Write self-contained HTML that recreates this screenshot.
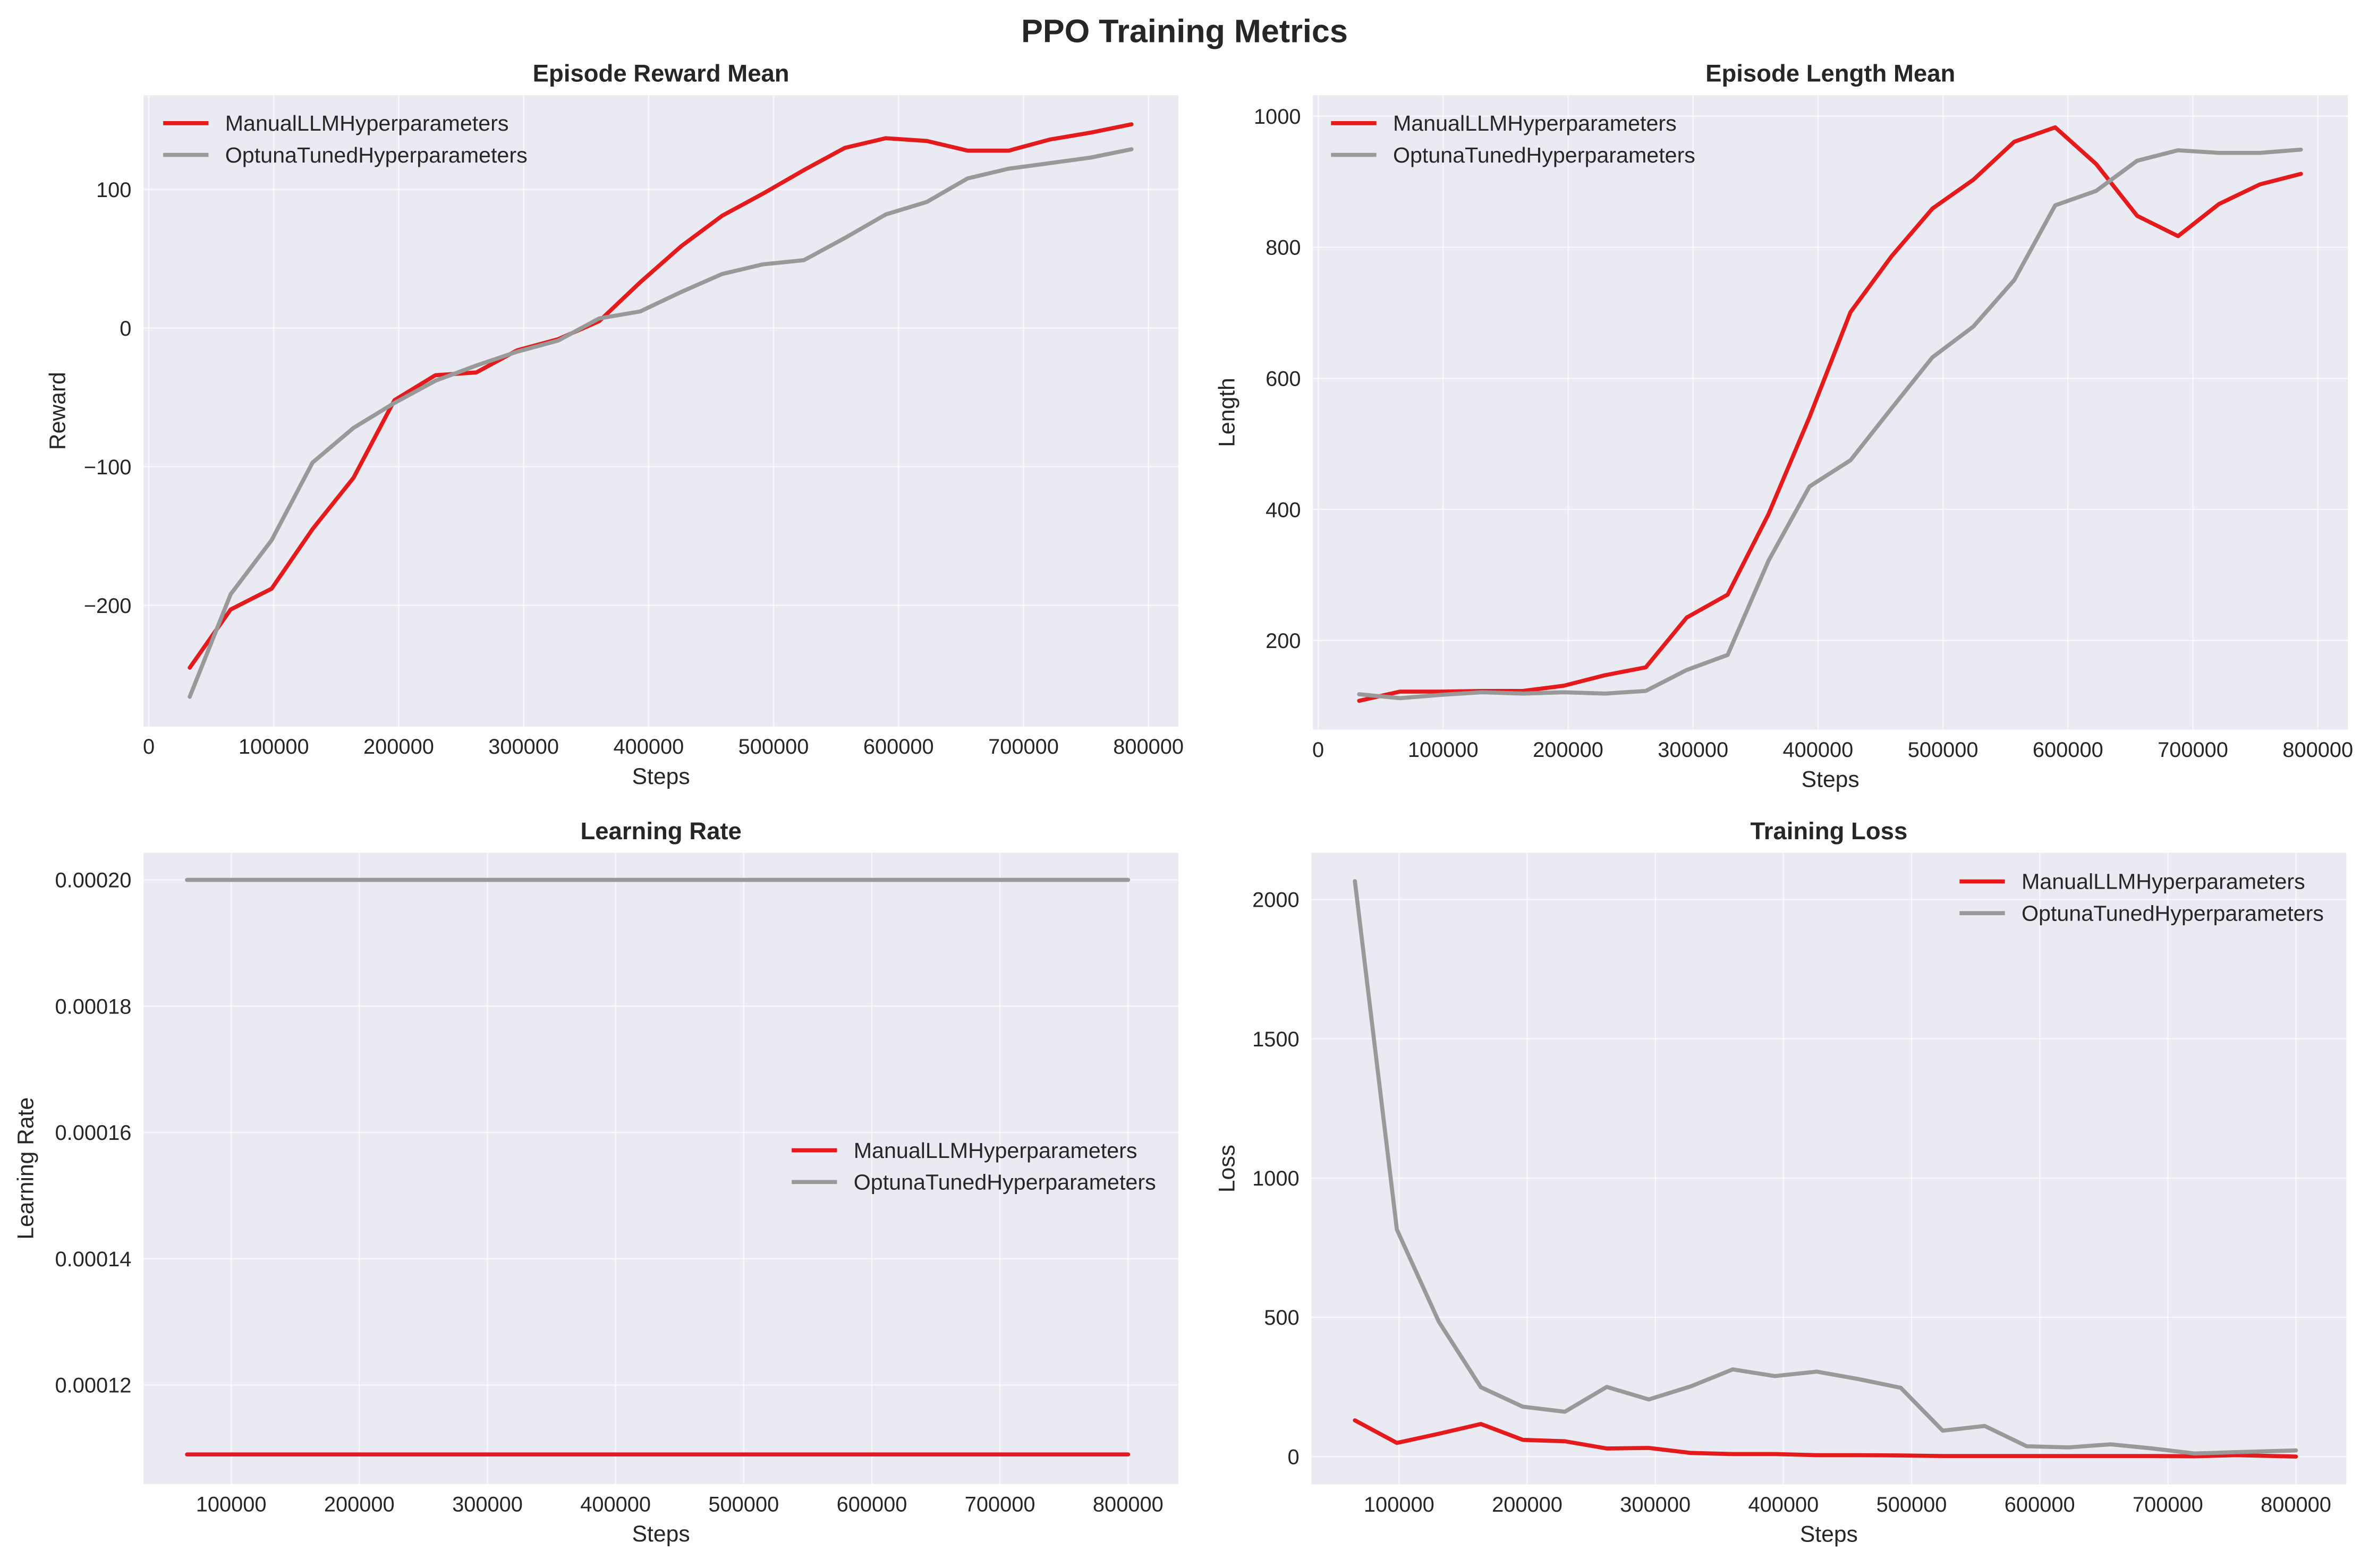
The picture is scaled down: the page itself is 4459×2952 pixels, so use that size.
<!DOCTYPE html>
<html><head><meta charset="utf-8">
<style>
html,body{margin:0;padding:0;background:#fff;}
svg{display:block;font-family:"Liberation Sans",Arial,sans-serif;}
</style></head>
<body>
<svg id="fig" width="4459" height="2952" viewBox="0 0 1568 1038" xmlns="http://www.w3.org/2000/svg">
<rect width="1568" height="1038" fill="#ffffff"/>
<text x="784" y="28" text-anchor="middle" font-size="21.5" font-weight="bold" fill="#262626">PPO Training Metrics</text>
</svg>
<script>
// ---- data ----
const stepsTop = [32768,65536,98304,131072,163840,196608,229376,262144,294912,327680,360448,393216,425984,458752,491520,524288,557056,589824,622592,655360,688128,720896,753664,786432];
const rewardManual = [-245,-203,-188,-145,-108,-52,-34,-32,-16,-8,5,33,59,81,97,114,130,137,135,128,128,136,141,147];
const rewardOptuna = [-266,-192,-153,-97,-72,-54,-38,-27,-17,-9,7,12,26,39,46,49,65,82,91,108,115,119,123,129];
const lengthManual = [108,122,122,123,123,131,147,159,235,270,393,541,701,786,859,903,961,983,927,848,817,866,896,912];
const lengthOptuna = [118,112,117,121,119,121,119,123,155,178,322,435,475,554,632,679,750,864,886,932,948,944,944,949];
const stepsBottom = [65536,98304,131072,163840,196608,229376,262144,294912,327680,360448,393216,425984,458752,491520,524288,557056,589824,622592,655360,688128,720896,753664,800000];
const lossManual = [130,49,82,117,60,55,29,31,13,9,9,5,5,4,2,2,2,2,2,2,1,5,0];
const lossOptuna = [2066,815,484,249,179,161,250,205,252,313,289,305,278,247,93,110,37,33,44,29,11,16,22];
const lrSteps = [65536,800000];
const lrManual = [0.000109,0.000109];
const lrOptuna = [0.0002,0.0002];
const xTicksTop = [0,100000,200000,300000,400000,500000,600000,700000,800000];
const xTicksBottom = [100000,200000,300000,400000,500000,600000,700000,800000];
const rewardTicks = [-200,-100,0,100];
const lengthTicks = [200,400,600,800,1000];
const lrTicks = [0.00012,0.00014,0.00016,0.00018,0.00020];
const lossTicks = [0,500,1000,1500,2000];
const seriesNames = ['ManualLLMHyperparameters','OptunaTunedHyperparameters'];
const colors = ['#e41a1c','#999999'];

const NS='http://www.w3.org/2000/svg';
const fig=document.getElementById('fig');
function mk(tag,attrs,parent){const e=document.createElementNS(NS,tag);for(const k in attrs)e.setAttribute(k,attrs[k]);(parent||fig).appendChild(e);return e;}

function panel(cfg){
  const g=mk('g',{});
  
  
  const L=cfg.box[0],R=cfg.box[1],T=cfg.box[2],B=cfg.box[3];
  const sx=v=>L+(v-cfg.xd[0])/(cfg.xd[1]-cfg.xd[0])*(R-L);
  const sy=v=>B-(v-cfg.yd[0])/(cfg.yd[1]-cfg.yd[0])*(B-T);
  const bg=mk('rect',{x:L,y:T,width:R-L,height:B-T,fill:'#eaeaf2'},g);
  
  
  cfg.xt.forEach(v=>{
    const x=sx(v);
    mk('line',{x1:x,x2:x,y1:T,y2:B,stroke:'#ffffff','stroke-width':0.8,opacity:0.7},g);
    const t=mk('text',{x:x,y:B+18,'text-anchor':'middle','font-size':14,fill:'#262626'},g);
    t.textContent=String(v);
    
    
  });
  cfg.yt.forEach(v=>{
    const y=sy(v);
    mk('line',{x1:L,x2:R,y1:y,y2:y,stroke:'#ffffff','stroke-width':0.8,opacity:0.7},g);
    const t=mk('text',{x:L-8,y:y+5,'text-anchor':'end','font-size':14,fill:'#262626'},g);
    t.textContent=cfg.fmt?cfg.fmt(v):(v<0?'\u2212'+(-v):String(v));
    
    
  });
  const tt=mk('text',{x:(L+R)/2,y:T-9,'text-anchor':'middle','font-size':16,'font-weight':'bold',fill:'#262626'},g);
  tt.textContent=cfg.title;
  
  
  const xl=mk('text',{x:(L+R)/2,y:B+38,'text-anchor':'middle','font-size':15,fill:'#262626'},g);
  xl.textContent='Steps';
  
  
  const yl=mk('text',{x:cfg.ylx,y:(T+B)/2,'text-anchor':'middle','font-size':15,fill:'#262626',transform:'rotate(-90 '+cfg.ylx+' '+(T+B)/2+')'},g);
  yl.textContent=cfg.ylabel;
  
  
  cfg.series.forEach((s,i)=>{
    const pts=s.x.map((xv,j)=>sx(xv).toFixed(2)+','+sy(s.y[j]).toFixed(2)).join(' ');
    const pl=mk('polyline',{points:pts,fill:'none',stroke:colors[i],'stroke-width':2.7,'stroke-linejoin':'round','stroke-linecap':'round'},g);
    
    
  });
  seriesNames.forEach((n,i)=>{
    const y=cfg.leg[1]+i*21;
    const lg=mk('g',{},g);
    
    
    mk('line',{x1:cfg.leg[0],x2:cfg.leg[0]+30,y1:y,y2:y,stroke:colors[i],'stroke-width':2.7},lg);
    const t=mk('text',{x:cfg.leg[0]+41,y:y+5,'font-size':14.5,fill:'#262626'},lg);
    t.textContent=n;
  });
}

panel({name:'episode-reward-panel',box:[95,780,63,481],xd:[-4200,824000],yd:[-287.5,168],xt:xTicksTop,yt:rewardTicks,title:'Episode Reward Mean',ylabel:'Reward',ylx:43,leg:[108,81.5],
  series:[{x:stepsTop,y:rewardManual},{x:stepsTop,y:rewardOptuna}]});
panel({name:'episode-length-panel',box:[869,1554,63,483],xd:[-4200,824000],yd:[64,1032],xt:xTicksTop,yt:lengthTicks,title:'Episode Length Mean',ylabel:'Length',ylx:817,leg:[881,81.5],
  series:[{x:stepsTop,y:lengthManual},{x:stepsTop,y:lengthOptuna}]});
panel({name:'learning-rate-panel',box:[95,780,564.5,982.5],xd:[31600,839300],yd:[0.0001043,0.0002043],xt:xTicksBottom,yt:lrTicks,fmt:v=>v.toFixed(5),title:'Learning Rate',ylabel:'Learning Rate',ylx:22,leg:[524,761.5],
  series:[{x:lrSteps,y:lrManual},{x:lrSteps,y:lrOptuna}]});
panel({name:'training-loss-panel',box:[868,1553,564.5,982.7],xd:[31600,839300],yd:[-100,2168],xt:xTicksBottom,yt:lossTicks,title:'Training Loss',ylabel:'Loss',ylx:817,leg:[1297,583.5],
  series:[{x:stepsBottom,y:lossManual},{x:stepsBottom,y:lossOptuna}]});
</script>
</body></html>
